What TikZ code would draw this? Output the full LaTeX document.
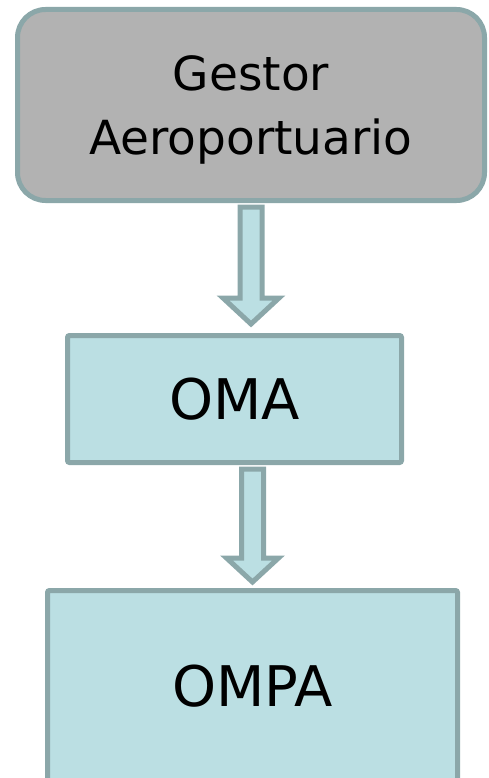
\documentclass[tikz,border=0pt]{standalone}
\usepackage{fontspec}
\setmainfont{DejaVu Sans}
\usetikzlibrary{calc}

\definecolor{borde}{HTML}{8BA7A9}
\definecolor{gris}{HTML}{B2B2B2}
\definecolor{celeste}{HTML}{BBDFE3}

\begin{document}
\begin{tikzpicture}[x=1pt, y=-1pt,
    caja/.style={draw=borde, line width=5pt, fill=celeste,
                 rounded corners=2pt, align=center, inner sep=0pt},
    flecha/.style={draw=borde, line width=5pt, fill=celeste}]
  \useasboundingbox (0,0) rectangle (488,778);
  % --- Boxes ---
  \node[caja, fill=gris, rounded corners=28pt,
        minimum width=467pt, minimum height=191pt, text depth=0pt,
        font=\fontsize{47}{64}\selectfont]
    (gestor) at (251,105) {Gestor\\Aeroportuario};
  \node[caja, minimum width=334pt, minimum height=127pt,
        font=\fontsize{56}{70}\selectfont]
    (oma) at (234.5,399) {OMA};
  \node[caja, minimum width=410pt, minimum height=192pt,
        font=\fontsize{56}{70}\selectfont]
    (ompa) at (252.5,686.5) {OMPA};
  % --- Hollow arrows ---
  \draw[flecha] let \p1=(gestor.south), \p2=(oma.north) in
    (\x1-11pt,\y1-4pt) -- (\x1+11pt,\y1-4pt) -- (\x1+11pt,\y2+35pt)
    -- (\x1+28pt,\y2+35pt) -- (\x1,\y2+9pt) -- (\x1-28pt,\y2+35pt)
    -- (\x1-11pt,\y2+35pt) -- cycle;
  \draw[flecha] let \p1=(oma.south), \p2=(ompa.north) in
    (\x2-11pt,\y1-4pt) -- (\x2+11pt,\y1-4pt) -- (\x2+11pt,\y2+30pt)
    -- (\x2+26pt,\y2+30pt) -- (\x2,\y2+6pt) -- (\x2-26pt,\y2+30pt)
    -- (\x2-11pt,\y2+30pt) -- cycle;
\end{tikzpicture}
\end{document}
